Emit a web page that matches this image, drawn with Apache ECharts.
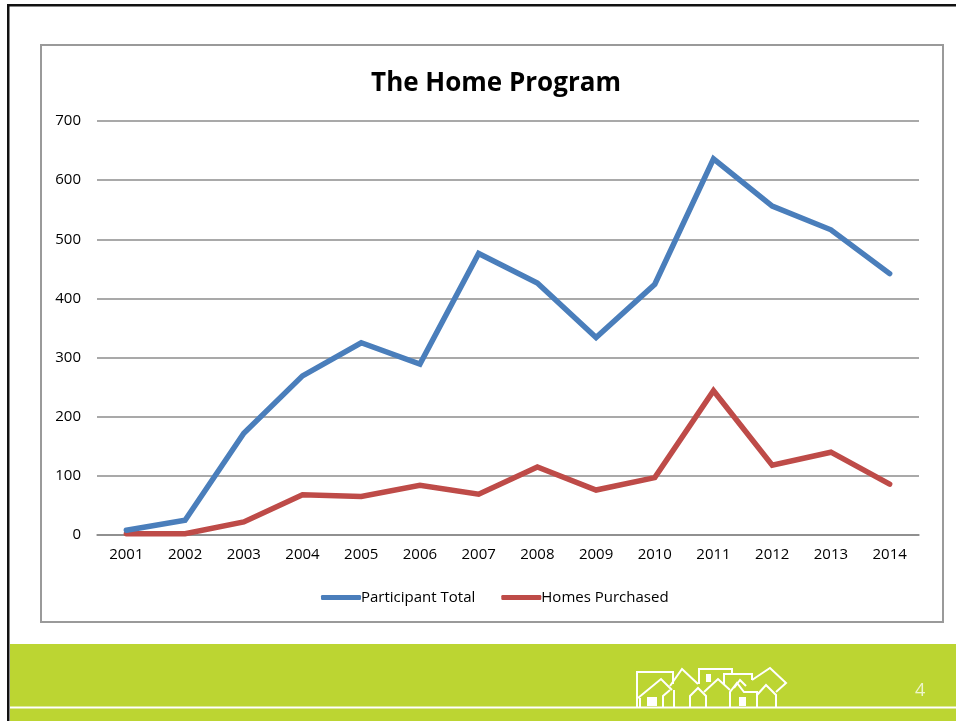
<!DOCTYPE html>
<html>
<head>
<meta charset="utf-8">
<style>
html,body{margin:0;padding:0;background:#fff;}
#chart{width:956px;height:721px;}
</style>
<script src="https://cdn.jsdelivr.net/npm/echarts@6/dist/echarts.min.js"></script>
</head>
<body>
<div id="chart"></div>
<script>
const years = ['2001','2002','2003','2004','2005','2006','2007','2008','2009','2010','2011','2012','2013','2014'];
const participantTotal = [8, 25, 172, 269, 325, 289, 476, 426, 334, 424, 636, 556, 516, 442];
const homesPurchased = [2, 2, 22, 68, 65, 84, 69, 115, 76, 97, 244, 118, 140, 86];
const yTicks = [0, 100, 200, 300, 400, 500, 600, 700];

const chart = echarts.init(document.getElementById('chart'), null, {renderer: 'canvas'});
const FONT = '"Open Sans", "Noto Sans", sans-serif';
const white = {stroke: '#fff', lineWidth: 2, fill: null};

function pl(points) {
  return {type: 'polyline', shape: {points: points}, style: white, z: 10};
}

chart.setOption({
  animation: false,
  backgroundColor: '#fff',
  title: {
    text: 'The Home Program',
    left: 491, top: 66, textAlign: 'center',
    textStyle: {fontFamily: FONT, fontWeight: 'bold', fontSize: 26, color: '#000'}
  },
  legend: {
    data: ['Participant Total', 'Homes Purchased'],
    left: 316, top: 585,
    itemWidth: 40, itemHeight: 5, itemGap: 26,
    icon: 'roundRect',
    textStyle: {fontFamily: FONT, fontSize: 15, color: '#000', padding: [0, 0, 0, -5]}
  },
  grid: {left: 97, right: 37, top: 121, bottom: 186, containLabel: false},
  xAxis: {
    type: 'category', data: years, boundaryGap: true,
    axisLine: {lineStyle: {color: '#888', width: 1.5}},
    axisTick: {show: false},
    axisLabel: {fontFamily: FONT, fontSize: 15, color: '#000', margin: 12}
  },
  yAxis: {
    type: 'value', min: yTicks[0], max: yTicks[yTicks.length - 1], interval: 100,
    axisLine: {show: false}, axisTick: {show: false},
    axisLabel: {fontFamily: FONT, fontSize: 15, color: '#000', margin: 16},
    splitLine: {lineStyle: {color: '#8c8c8c', width: 1.5}}
  },
  series: [
    {name: 'Participant Total', type: 'line', data: participantTotal, symbol: 'none',
     lineStyle: {width: 5.5, color: '#4a7ebb', cap: 'round', join: 'miter'}, itemStyle: {color: '#4a7ebb'}, z: 3},
    {name: 'Homes Purchased', type: 'line', data: homesPurchased, symbol: 'none',
     lineStyle: {width: 5.5, color: '#be4b48', cap: 'round', join: 'miter'}, itemStyle: {color: '#be4b48'}, z: 2}
  ],
  graphic: [
    // slide border
    {type: 'rect', shape: {x: 7, y: 4, width: 960, height: 2.5}, style: {fill: '#111'}, z: -1},
    {type: 'rect', shape: {x: 7, y: 4, width: 2.5, height: 720}, style: {fill: '#111'}, z: -1},
    // chart box
    {type: 'rect', shape: {x: 41, y: 45, width: 902, height: 577}, style: {fill: null, stroke: '#9a9a9a', lineWidth: 2}, z: -1},
    // green band
    {type: 'rect', shape: {x: 10, y: 644, width: 946, height: 77}, style: {fill: '#bcd532'}, z: -1},
    {type: 'rect', shape: {x: 10, y: 706.5, width: 946, height: 2}, style: {fill: '#fff'}, z: 5},
    // page number
    {type: 'text', left: 915, top: 682, style: {text: '4', fill: '#eef5cc', font: '18px ' + FONT}, z: 10},
    // house logo
    pl([[637,707],[637,672],[673,672],[673,684]]),
    pl([[638,698],[661,679],[672,690]]),
    pl([[640,707],[640,698]]),
    pl([[663,707],[663,696],[670,690]]),
    pl([[670,686],[682,669],[698,684]]),
    pl([[674,707],[674,690]]),
    pl([[690,707],[690,696],[698,688],[706,696],[706,707]]),
    pl([[699,684],[699,669],[732,669],[732,674]]),
    pl([[704,692],[718,679],[730,690]]),
    pl([[724,684],[724,674],[752,674],[752,680]]),
    pl([[730,707],[730,692],[737,683],[744,692],[757,692],[757,707]]),
    pl([[734,688],[740,680],[746,686]]),
    pl([[752,680],[770,668],[786,683],[776,692]]),
    pl([[757,695],[766,685],[776,695],[776,707]]),
    {type: 'rect', shape: {x: 647, y: 697, width: 10, height: 9}, style: {fill: '#fff'}, z: 10},
    {type: 'rect', shape: {x: 706, y: 674, width: 5, height: 8}, style: {fill: '#fff'}, z: 10},
    {type: 'rect', shape: {x: 739, y: 697, width: 7, height: 9}, style: {fill: '#fff'}, z: 10}
  ]
});
</script>
</body>
</html>
